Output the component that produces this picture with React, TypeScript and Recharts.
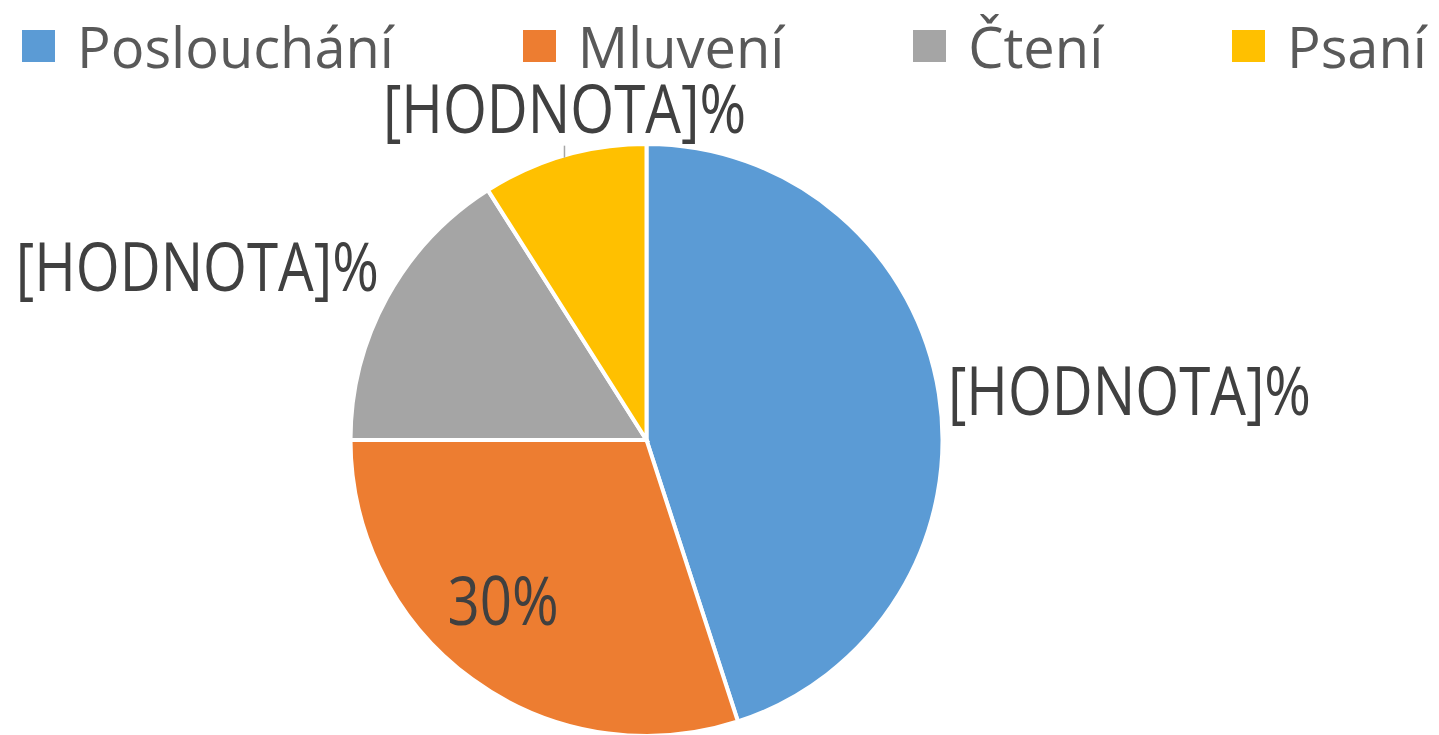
import { PieChart, Pie, Cell, Legend } from "recharts";

const categories = ["Poslouchání", "Mluvení", "Čtení", "Psaní"];
const shares = [45, 30, 16, 9];
const colors = ["#5B9BD5", "#ED7D31", "#A5A5A5", "#FFC000"];
const labelTexts = ["[HODNOTA]%", "30%", "[HODNOTA]%", "[HODNOTA]%"];

const data = categories.map((name, i) => ({ name, value: shares[i] }));

const RAD = Math.PI / 180;
const FONT = "'Open Sans', sans-serif";
const LEGEND_H = 64;

// Calibri-like narrow text: Open Sans squeezed horizontally
const Narrow = ({ x, y, anchor, children }: any) => (
  <g transform={`translate(${x},${y - 3}) scale(0.83,1)`}>
    <text
      x={0}
      y={0}
      textAnchor={anchor}
      dominantBaseline="central"
      fill="#404040"
      fontSize={68}
      fontFamily={FONT}
    >
      {children}
    </text>
  </g>
);

const renderLabel = (props: any) => {
  const { cx, cy, midAngle, outerRadius, index } = props;
  const r = outerRadius - 2;
  const cos = Math.cos(-midAngle * RAD);
  const sin = Math.sin(-midAngle * RAD);
  const ex = cx + r * cos;
  const ey = cy + r * sin;
  const text = labelTexts[index];

  if (index === 0) {
    return <Narrow x={ex + 11} y={ey - 3} anchor="start">{text}</Narrow>;
  }
  if (index === 1) {
    // inside the slice
    const ix = cx + r * 0.72 * cos - 19;
    const iy = cy + r * 0.72 * sin - 10;
    return <Narrow x={ix} y={iy} anchor="middle">{text}</Narrow>;
  }
  if (index === 2) {
    return <Narrow x={ex - 10} y={ey - 31} anchor="end">{text}</Narrow>;
  }
  return (
    <g>
      <line x1={ex} y1={ey - 12} x2={ex} y2={ey} stroke="#A6A6A6" strokeWidth={1.5} />
      <Narrow x={ex} y={ey - 48} anchor="middle">{text}</Narrow>
    </g>
  );
};

const renderLegend = () => (
  <div
    style={{
      display: "flex",
      justifyContent: "space-between",
      alignItems: "center",
      padding: "0 12px 0 22px",
      boxSizing: "border-box",
      width: 1439,
      height: LEGEND_H,
    }}
  >
    {categories.map((name, i) => (
      <div key={name} style={{ display: "flex", alignItems: "center" }}>
        <span
          style={{
            display: "inline-block",
            width: 33,
            height: 32,
            background: colors[i],
            marginRight: 22,
          }}
        />
        <span
          style={{
            fontSize: 56,
            fontFamily: FONT,
            color: "#595959",
            lineHeight: "64px",
          }}
        >
          {name}
        </span>
      </div>
    ))}
  </div>
);

export default function App() {
  return (
    <div style={{ position: "absolute", left: 0, top: 0, background: "#fff" }}>
      <PieChart
        width={1439}
        height={735}
        margin={{ top: 0, right: 0, bottom: 0, left: 0 }}
      >
        <Legend
          verticalAlign="top"
          content={renderLegend}
          wrapperStyle={{ top: 14, left: 0, width: 1439 }}
        />
        <Pie
          data={data}
          dataKey="value"
          nameKey="name"
          cx={646.5}
          cy={440 - LEGEND_H}
          outerRadius={296}
          startAngle={90}
          endAngle={-270}
          stroke="#FFFFFF"
          strokeWidth={4}
          label={renderLabel}
          labelLine={false}
          isAnimationActive={false}
        >
          {data.map((d, i) => (
            <Cell key={d.name} fill={colors[i]} />
          ))}
        </Pie>
      </PieChart>
    </div>
  );
}
